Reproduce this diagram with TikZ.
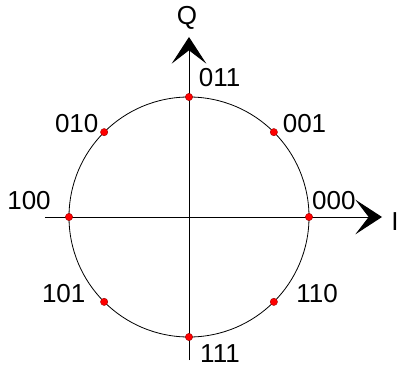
\documentclass[tikz,border=0pt]{standalone}
\usepackage{fontspec}
\setmainfont{Liberation Sans}
\usetikzlibrary{positioning, calc, arrows.meta}
\definecolor{Dark}{HTML}{000000}
\definecolor{Dot}{HTML}{FF0000}
\tikzset{
    axis/.style={-{Stealth[length=20pt, width=26pt, inset=10pt]}, line width=0.75pt, color=Dark},
    ring/.style={draw=Dark, line width=0.6pt},
    symbol/.style={circle, fill=Dot, draw=Dot!60!black, line width=0.3pt, inner sep=0pt, minimum size=5.5pt},
    bits/.style={font=\fontsize{19.5}{22}\selectfont, text=Dark, inner sep=0pt},
}

\begin{document}
\begin{tikzpicture}[x=0.75pt, y=0.75pt]
    \useasboundingbox (-189,-150) rectangle (209,217);

    % Origine e estremi degli assi
    \coordinate (O) at (0,0);
    \coordinate (iL) at (-144,0);
    \coordinate (iR) at (193,0);
    \coordinate (qB) at (0,-143);
    \coordinate (qT) at (0,180);

    % Cerchio
    \draw[ring] (O) circle (120);

    % Assi I / Q
    \draw[axis] (iL) -- (iR);
    \draw[axis] (qB) -- (qT);
    \node[bits] (Q) at (-2,199) {Q};
    \node[bits] (I) at (206,-4.7) {I};

    % Simboli 8-PSK
    \foreach \name/\ang in {p000/0, p001/45, p011/90, p010/135, p100/180, p101/225, p111/270, p110/315}
        \node[symbol] (\name) at (\ang:120) {};

    % Etichette
    \node[bits] (l000) at (144.8,16) {000};
    \node[bits] (l001) at (115.5,93) {001};
    \node[bits] (l011) at (30.7,139) {011};
    \node[bits] (l010) at (-112.3,93) {010};
    \node[bits] (l100) at (-160,16) {100};
    \node[bits] (l101) at (-125.3,-77) {101};
    \node[bits] (l111) at (31,-137) {111};
    \node[bits] (l110) at (128,-77) {110};
\end{tikzpicture}
\end{document}
